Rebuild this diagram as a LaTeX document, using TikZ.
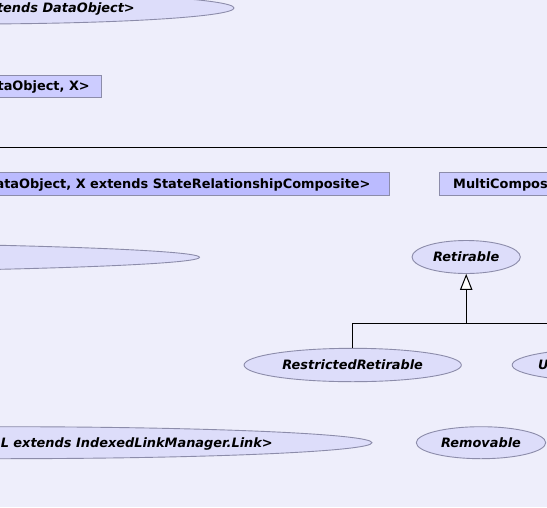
\documentclass[tikz,border=0pt]{standalone}
\usepackage{fontspec}
\setmainfont{DejaVu Sans}
\usetikzlibrary{shapes.geometric,arrows.meta}
\definecolor{bgc}{RGB}{238,238,251}
\definecolor{ellfill}{RGB}{221,221,250}
\definecolor{boxfill}{RGB}{204,204,255}
\definecolor{boxdark}{RGB}{187,187,255}
\definecolor{edgec}{RGB}{140,140,170}
\tikzset{
  ell/.style={ellipse, draw=edgec, fill=ellfill, line width=0.9pt, inner sep=0pt},
  cls/.style={rectangle, draw=edgec, fill=boxfill, line width=0.9pt, inner sep=0pt},
  clsdark/.style={cls, fill=boxdark},
  itxt/.style={inner sep=0pt, font=\fontsize{12.9}{15}\selectfont\bfseries\itshape},
  btxt/.style={inner sep=0pt, font=\fontsize{12.9}{15}\selectfont\bfseries},
  conn/.style={draw=black, line width=1pt},
  gen/.style={-{Triangle[length=16pt,width=12.4pt,fill=white,line width=1pt]}}
}
\begin{document}
\begin{tikzpicture}[x=1pt,y=-1pt]
\useasboundingbox (0,0) rectangle (547,507);
\fill[bgc] (0,0) rectangle (547,507);
\clip (0,0) rectangle (547,507);
% top ellipse
\node[ell, minimum width=530pt, minimum height=32pt] (e1) at (-31,8) {};
\node[itxt, anchor=base east] (t1) at (135,12.6) {extends DataObject>};
% box 2
\node[cls, minimum width=200pt, minimum height=22.3pt] (b2) at (1.7,86.2) {};
\node[btxt, anchor=base east] (t2) at (90,90.8) {DataObject, X>};
% separator line
\coordinate (l1) at (0,147.3);
\coordinate (l2) at (547,147.3);
\draw[line width=1pt] (l1) -- (l2);
% box 4
\node[clsdark, minimum width=500pt, minimum height=23pt] (b4) at (139.7,183.8) {};
\node[btxt, anchor=base east] (t4) at (370.7,188.5) {DataObject, X extends StateRelationshipComposite>};
% MultiComposite box
\node[cls, minimum width=200pt, minimum height=23pt, anchor=west] (b5) at (439,183.8) {};
\node[btxt, anchor=base west] (t5) at (453,188.5) {MultiComposite};
% long ellipse left
\node[ell, minimum width=1176pt, minimum height=32pt] (e6) at (-388.5,257.3) {};
% Retirable
\node[ell, minimum width=108.3pt, minimum height=33pt] (ret) at (466.2,257) {};
\node[itxt, anchor=base] (tret) at (466.2,261.6) {Retirable};
% RestrictedRetirable
\node[ell, minimum width=217.3pt, minimum height=33.4pt] (rr) at (352.7,365) {};
\node[itxt, anchor=base] (trr) at (352.7,369.6) {RestrictedRetirable};
% U ellipse
\node[ell, minimum width=200pt, minimum height=33.4pt, anchor=west] (ue) at (511.7,365) {};
\node[itxt, anchor=base west] (tue) at (538,369.6) {U};
% bottom ellipse
\node[ell, minimum width=744pt, minimum height=32pt] (e9) at (0,442.7) {};
\node[itxt, anchor=base east] (t9) at (273,447.3) {L extends IndexedLinkManager.Link>};
% Removable
\node[ell, minimum width=129.4pt, minimum height=32pt] (rem) at (481,442.7) {};
\node[itxt, anchor=base] (trem) at (481,447.3) {Removable};
% connectors
\coordinate (j) at (466.2,323.3);
\coordinate (jr) at (547,323.3);
\draw[conn] (jr) -- (j);
\draw[conn,gen] (rr.north) |- (j) -- (ret.south);
\end{tikzpicture}
\end{document}
